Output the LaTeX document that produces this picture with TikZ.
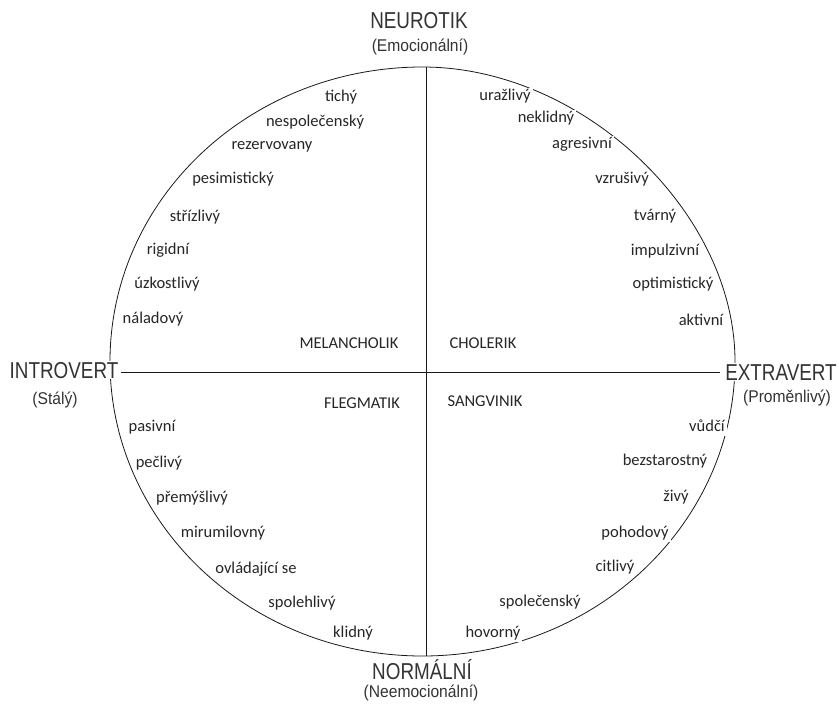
\documentclass[tikz,border=0pt]{standalone}
\usepackage{fontspec}
\setmainfont{Carlito}
\newfontfamily\headfont{Liberation Sans}
\tikzset{
  word/.style={font=\fontsize{16.5}{18}\selectfont, text=black!85, fill=white,
    inner xsep=2pt, inner ysep=1pt, text height=11.5pt, text depth=3.5pt},
  head/.style={text=black!80, fill=white, inner sep=0.5pt, text height=16.5pt, text depth=0pt},
  sub/.style={text=black!80, inner sep=0.5pt, text height=12.5pt, text depth=3.5pt},
  rim/.style={line width=0.8pt, draw=black!90},
  axis/.style={line width=0.9pt, draw=black!90}
}
\newcommand{\hd}[1]{\scalebox{0.82}[1]{\headfont\fontsize{23}{25}\selectfont #1}}
\newcommand{\sbt}[1]{\scalebox{0.92}[1]{\headfont\fontsize{17}{19}\selectfont #1}}
\begin{document}
\begin{tikzpicture}[x=1pt,y=-1pt]
\useasboundingbox (0,0) rectangle (839,704);
% rim
\draw[rim] (735,361.5) .. controls (735,211.3) and (581.9,67) .. (422.5,67)
  .. controls (249.9,67) and (110,198.85) .. (110,361.5)
  .. controls (110,524.15) and (249.9,656) .. (422.5,656)
  .. controls (595.1,656) and (735,524.15) .. (735,361.5) -- cycle;
% axes
\coordinate (T) at (426,67);
\coordinate (B) at (426,656);
\coordinate (L) at (121,372);
\coordinate (R) at (720,372);
\draw[axis] (T) -- (B);
\draw[axis] (L) -- (R);
% headings
\node[head] (neur) at (419,20) {\hd{NEUROTIK}};
\node[sub] (emo) at (420,47) {\sbt{(Emocionální)}};
\node[head] (intro) at (64,370) {\hd{INTROVERT}};
\node[sub] (stal) at (55,400) {\sbt{(Stálý)}};
\node[head] (extra) at (781,372) {\hd{EXTRAVERT}};
\node[sub] (prom) at (787,398) {\sbt{(Proměnlivý)}};
\node[head] (norm) at (422,671.5) {\hd{NORMÁLNÍ}};
\node[sub] (neemo) at (421,693) {\sbt{(Neemocionální)}};
% types
\node[word] (mel) at (349,344) {MELANCHOLIK};
\node[word] (cho) at (483,344) {CHOLERIK};
\node[word] (fle) at (362,404) {FLEGMATIK};
\node[word] (san) at (485,402) {SANGVINIK};
% upper left
\node[word] (a1) at (341,97) {tichý};
\node[word] (a2) at (315,122) {nespolečenský};
\node[word] (a3) at (272,145) {rezervovany};
\node[word] (a4) at (233,179) {pesimistický};
\node[word] (a5) at (195,217) {střízlivý};
\node[word] (a6) at (168,250) {rigidní};
\node[word] (a7) at (167,284) {úzkostlivý};
\node[word] (a8) at (153,319) {náladový};
% upper right
\node[word] (b1) at (505,96) {uražlivý};
\node[word] (b2) at (546,118) {neklidný};
\node[word] (b3) at (582,144) {agresivní};
\node[word] (b4) at (622,179) {vzrušivý};
\node[word] (b5) at (655,216) {tvárný};
\node[word] (b6) at (665,251) {impulzivní};
\node[word] (b7) at (673,284) {optimistický};
\node[word] (b8) at (701,321) {aktivní};
% lower left
\node[word] (c1) at (152,427) {pasivní};
\node[word] (c2) at (159,463) {pečlivý};
\node[word] (c3) at (192,498) {přemýšlivý};
\node[word] (c4) at (223,533) {mirumilovný};
\node[word] (c5) at (256,569) {ovládající se};
\node[word] (c6) at (302,603) {spolehlivý};
\node[word] (c7) at (353,633) {klidný};
% lower right
\node[word] (d1) at (707,427) {vůdčí};
\node[word] (d2) at (665,461) {bezstarostný};
\node[word] (d3) at (676,497) {živý};
\node[word] (d4) at (635,533) {pohodový};
\node[word] (d5) at (615,567) {citlivý};
\node[word] (d6) at (540,602) {společenský};
\node[word] (d7) at (493,633) {hovorný};
\end{tikzpicture}
\end{document}
